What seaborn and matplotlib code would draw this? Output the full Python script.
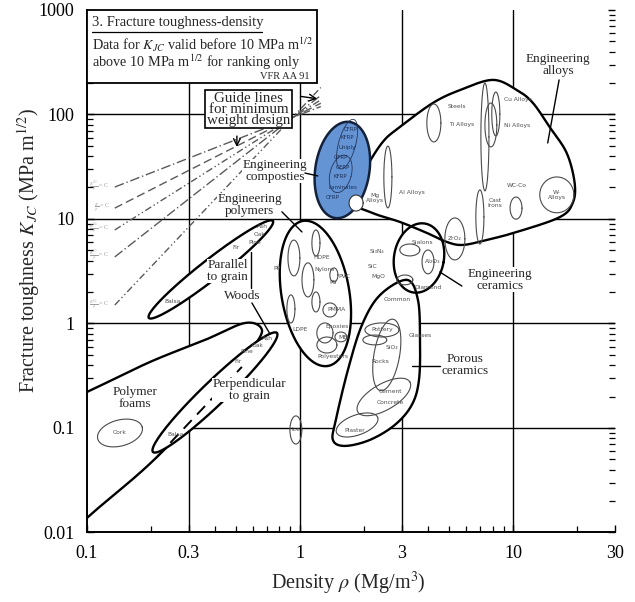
import numpy as np
import matplotlib
matplotlib.use("Agg")
import matplotlib.pyplot as plt
import seaborn as sns
from matplotlib.patches import Rectangle
from matplotlib.ticker import LogLocator, NullFormatter

sns.set_theme(style="white")
plt.rcParams["font.family"] = ["Liberation Serif", "DejaVu Serif"]
plt.rcParams["mathtext.fontset"] = "stix"

# ---------------- axes ----------------
density_ticks = [0.1, 0.3, 1, 3, 10, 30]
density_tick_labels = ["0.1", "0.3", "1", "3", "10", "30"]
toughness_ticks = [0.01, 0.1, 1, 10, 100, 1000]
toughness_tick_labels = ["0.01", "0.1", "1", "10", "100", "1000"]
grid_density = [0.3, 1, 3, 10]
grid_toughness = [0.1, 1, 10, 100]

# ---------------- material envelopes (density Mg/m3, toughness MPa m^1/2) ----------------
foam_rho = [0.0184, 0.0216, 0.0391, 0.1, 0.1975, 0.3575, 0.551, 0.662, 0.594, 0.533, 0.213, 0.1, 0.0436]
foam_K = [0.00546, 0.0396, 0.0916, 0.221, 0.428, 0.695, 1.01, 0.867, 0.557, 0.384, 0.0528, 0.01377, 0.00282]

alloys_rho = [1.71, 2.01, 2.44, 2.94, 4.20, 5.62, 8.02, 10.4, 12.35, 14.8, 17.8, 19.4, 19.0,
              16.5, 10.4, 7.52, 5.80, 4.88, 3.93, 2.94, 2.19]
alloys_K = [15.2, 29.4, 54.5, 75.9, 129, 171, 214, 171, 129, 75.9, 42.8, 22.1, 14.2,
            10.4, 7.51, 6.30, 5.64, 6.02, 7.35, 9.36, 11.4]

porous_rho = [3.17, 3.57, 3.65, 3.61, 3.34, 2.78, 2.12, 1.62, 1.425, 1.47, 1.675, 1.95, 2.37]
porous_K = [2.61, 1.68, 0.695, 0.288, 0.166, 0.1068, 0.0767, 0.0673, 0.0767, 0.119, 0.359, 0.967, 1.87]

# elongated envelopes: two tips plus half-width (decades)
woods_par_rho = [0.195, 0.745]
woods_par_K = [1.13, 9.57]
woods_perp_rho = [0.204, 0.778]
woods_perp_K = [0.0589, 0.811]
polymers_rho = [1.03, 1.35]
polymers_K = [9.57, 0.392]
composites_rho = [1.71, 1.456]
composites_K = [84.7, 10.2]
ceramics_centre = (3.61, 4.23)

# smaller families: centre density, centre toughness, semi-axes (decades), tilt (deg)
sub_rho = [2.58, 4.24, 7.36, 6.97, 7.85, 8.28, 10.3, 16.0,
           0.935, 1.186, 1.088, 1.44, 1.186, 1.38, 1.307, 1.553, 0.905, 1.335,
           3.27, 3.98, 3.10, 5.32,
           2.47, 1.85, 2.42, 2.24, 2.55,
           0.1428, 0.955]
sub_K = [25.2, 82.9, 60.9, 10.45, 79.3, 101, 12.7, 17.0,
         4.23, 5.89, 2.61, 2.91, 1.606, 1.346, 0.811, 0.743, 1.376, 0.622,
         5.05, 3.88, 2.61, 6.44,
         0.198, 0.1068, 0.866, 0.695, 0.50,
         0.0895, 0.0957]
sub_a = [0.019, 0.033, 0.019, 0.019, 0.028, 0.019, 0.028, 0.080,
         0.028, 0.019, 0.028, 0.019, 0.019, 0.033, 0.038, 0.028, 0.019, 0.047,
         0.047, 0.028, 0.0375, 0.047,
         0.141, 0.103, 0.080, 0.056, 0.060,
         0.108, 0.028]
sub_b = [0.145, 0.089, 0.253, 0.127, 0.103, 0.103, 0.052, 0.084,
         0.084, 0.061, 0.080, 0.033, 0.047, 0.033, 0.047, 0.023, 0.066, 0.0375,
         0.028, 0.056, 0.023, 0.0985,
         0.061, 0.047, 0.033, 0.023, 0.170,
         0.061, 0.066]
sub_tilt = [0, 0, 0, 0, 0, 0, 0, 0,
            0, 0, 0, 0, 0, 0, 0, 0, 0, 0,
            0, 0, 0, 0,
            30, 20, 0, 0, -10,
            15, 0]

# Mg alloys sit on the composites envelope
mg_rho, mg_K, mg_a, mg_b = 1.83, 14.2, 0.033, 0.0375

# internal outlines of the composites envelope
comp_in_rho = [1.66, 1.55]
comp_in_K = [52.0, 27.0]
comp_in_a = [0.040, 0.050]
comp_in_b = [0.120, 0.090]

# ---------------- guide lines ----------------
guide_rho = [0.135, 1.25]
guide_K_left = [20.2, 12.7, 7.85, 4.33, 1.50]
guide_K_right = [119, 128, 138, 152, 181]
guide_names = [r"$\frac{K^{4/3}}{\rho}$ = C", r"$\frac{K}{\rho}$ = C", r"$\frac{K^{3/4}}{\rho}$ = C",
               r"$\frac{K^{2/3}}{\rho}$ = C", r"$\frac{K^{1/2}}{\rho}$ = C"]
low_guide_rho = [0.213, 0.533]
low_guide_K = [0.0528, 0.384]

# ---------------- small family names ----------------
tiny_names = ["Balsa", "Ash", "Oak", "Pine", "Fir", "Balsa", "Fir", "Pine", "Oak", "Ash", "Cork", "Ice",
              "HDPE", "Nylons", "PP", "PS", "PVC", "PMMA", "LDPE", "Epoxies", "MEL", "Polyesters",
              "Si₃N₄", "SiC", "MgO", "Sialons", "Al₂O₃", "Diamond", "ZrO₂",
              "Common", "Pottery", "Glasses", "SiO₂", "Rocks", "Cement", "Concrete", "Plaster",
              "Steels", "Ti Alloys", "Cu Alloys", "Ni Alloys", "Al Alloys", "Mg\nAlloys", "WC-Co",
              "Cast\nIrons", "W-\nAlloys"]
tiny_rho = [0.253, 0.662, 0.648, 0.614, 0.50, 0.259, 0.511, 0.563, 0.634, 0.699, 0.1428, 0.955,
            1.265, 1.307, 0.778, 1.425, 1.62, 1.488, 1.0, 1.488, 1.62, 1.425,
            2.29, 2.19, 2.32, 3.73, 4.20, 3.98, 5.32,
            2.84, 2.42, 3.65, 2.69, 2.37, 2.64, 2.64, 1.81,
            5.44, 5.74, 10.5, 10.4, 3.34, 2.24, 10.4, 8.19, 16.0]
tiny_K = [1.606, 8.38, 7.06, 5.89, 5.28, 0.0857, 0.428, 0.534, 0.622, 0.711, 0.0895, 0.0957,
          4.23, 3.25, 3.32, 2.49, 2.79, 1.346, 0.866, 0.926, 0.727, 0.478,
          4.83, 3.47, 2.79, 5.89, 3.88, 2.19, 6.44,
          1.68, 0.866, 0.759, 0.583, 0.428, 0.221, 0.177, 0.0936,
          120, 79.3, 138, 77.6, 18.1, 15.9, 21.1, 14.2, 17.0]

comp_names = ["CFRP", "KFRP", "Uniply", "GFRP", "GFRP", "KFRP", "Laminates", "CFRP"]
comp_rho = [1.73, 1.66, 1.67, 1.55, 1.59, 1.55, 1.59, 1.425]
comp_K = [71.0, 59.6, 47.8, 38.3, 30.8, 25.2, 20.2, 15.9]

# ---------------- figure ----------------
fig = plt.figure(figsize=(6.35, 6.02), dpi=100)
ax = fig.add_axes([0.137, 0.1155, 0.8315, 0.868])
ax.set_xscale("log")
ax.set_yscale("log")
ax.set_xlim(0.1, 30)
ax.set_ylim(0.01, 1000)

p0 = ax.transData.transform((1, 1))
p1 = ax.transData.transform((10, 10))
R = (p1[1] - p0[1]) / (p1[0] - p0[0])   # display height of a toughness decade / width of a density decade


def to_iso(rho, K):
    return np.log10(rho), np.log10(K) * R


def from_iso(X, Y):
    return 10 ** X, 10 ** (Y / R)


def ellipse(rho, K, a, b, ang=0.0, n=160):
    X0, Y0 = to_iso(rho, K)
    t = np.linspace(0, 2 * np.pi, n)
    c, s = np.cos(np.radians(ang)), np.sin(np.radians(ang))
    x, y = a * np.cos(t), b * np.sin(t)
    return from_iso(X0 + c * x - s * y, Y0 + s * x + c * y)


def tip_ellipse(rhos, Ks, hw):
    X, Y = to_iso(np.array(rhos), np.array(Ks))
    a = np.hypot(X[1] - X[0], Y[1] - Y[0]) / 2
    ang = np.degrees(np.arctan2(Y[1] - Y[0], X[1] - X[0]))
    return ellipse(10 ** X.mean(), 10 ** (Y.mean() / R), a, hw, ang)


def smooth_closed(rhos, Ks, n=30):
    X, Y = to_iso(np.array(rhos), np.array(Ks))
    P = np.column_stack([X, Y])
    m = len(P)
    t = np.linspace(0, 1, n, endpoint=False)[:, None]
    segs = []
    for i in range(m):
        q0, q1, q2, q3 = P[i - 1], P[i], P[(i + 1) % m], P[(i + 2) % m]
        segs.append(0.5 * (2 * q1 + (-q0 + q2) * t + (2 * q0 - 5 * q1 + 4 * q2 - q3) * t ** 2
                           + (-q0 + 3 * q1 - 3 * q2 + q3) * t ** 3))
    out = np.vstack(segs + [segs[0][:1]])
    return from_iso(out[:, 0], out[:, 1])


def outline(pts, z, color="black", lw=1.7, **kw):
    sns.lineplot(x=pts[0], y=pts[1], sort=False, estimator=None, ax=ax,
                 color=color, lw=lw, zorder=z, **kw)


def fill(pts, z, color="white"):
    ax.fill(pts[0], pts[1], facecolor=color, edgecolor="none", zorder=z)


# grid
for g in grid_density:
    ax.axvline(g, color="black", lw=1.0, zorder=0.5)
for g in grid_toughness:
    ax.axhline(g, color="black", lw=1.0, zorder=0.5)

# guide lines for minimum weight design
guide_styles = [(0, (7, 2, 1, 2)), (0, (6, 3)), (0, (5, 2, 1, 2, 1, 2)), (0, (7, 2, 1, 2)), (0, (5, 2, 1, 2, 1, 2))]
for kl, kr, st in zip(guide_K_left, guide_K_right, guide_styles):
    sns.lineplot(x=guide_rho, y=[kl, kr], ax=ax, color="#5a5a5a", lw=1.0, linestyle=st, zorder=1)
for kl, name in zip(guide_K_left, guide_names):
    ax.text(0.128, kl, name, fontsize=4.5, color="#a0a0a0", ha="right", va="center", zorder=1)

# polymer foams, then woods across grain over it
foam = smooth_closed(foam_rho, foam_K)
fill(foam, 1.5)
outline(foam, 1.6)
perp = tip_ellipse(woods_perp_rho, woods_perp_K, 0.056)
fill(perp, 1.7)
outline(perp, 1.8)
sns.lineplot(x=low_guide_rho, y=low_guide_K, ax=ax, color="black", lw=1.4,
             linestyle=(0, (6, 4)), zorder=1.85)

par = tip_ellipse(woods_par_rho, woods_par_K, 0.047)
poly = tip_ellipse(polymers_rho, polymers_K, 0.159)
alloys = smooth_closed(alloys_rho, alloys_K)
porous = smooth_closed(porous_rho, porous_K)
ceram = ellipse(ceramics_centre[0], ceramics_centre[1], 0.117, 0.164, -10)
for shape in (par, poly, alloys, porous, ceram):
    fill(shape, 2)
for shape in (par, poly, alloys, porous, ceram):
    outline(shape, 3)

# engineering composites
comp = tip_ellipse(composites_rho, composites_K, 0.127)
fill(comp, 3.5, color="#6494d4")
outline(comp, 3.6, color="#14213a", lw=1.8)
for r_, k_, a_, b_ in zip(comp_in_rho, comp_in_K, comp_in_a, comp_in_b):
    outline(ellipse(r_, k_, a_, b_, -15), 3.65, color="#22375e", lw=0.6)
mg = ellipse(mg_rho, mg_K, mg_a, mg_b)
fill(mg, 3.7)
outline(mg, 3.75, color="#333333", lw=0.8)

# smaller families
for r_, k_, a_, b_, t_ in zip(sub_rho, sub_K, sub_a, sub_b, sub_tilt):
    outline(ellipse(r_, k_, a_, b_, t_), 4, color="#4a4a4a", lw=0.8)

for name, r_, k_ in zip(tiny_names, tiny_rho, tiny_K):
    ax.text(r_, k_, name, fontsize=4.3, color="#4d4d4d", ha="center", va="center",
            family="DejaVu Sans", linespacing=1.0, zorder=5)
for name, r_, k_ in zip(comp_names, comp_rho, comp_K):
    ax.text(r_, k_, name, fontsize=4.0, color="#1c2f55", ha="center", va="center",
            family="DejaVu Sans", zorder=5)

# family names and leaders
labels = [("Engineering\nalloys", 16.2, 298), ("Engineering\ncomposties", 0.762, 28.8),
          ("Engineering\npolymers", 0.581, 13.6), ("Parallel\nto grain", 0.458, 3.18),
          ("Woods", 0.533, 1.83), ("Perpendicular\nto grain", 0.581, 0.231),
          ("Polymer\nfoams", 0.168, 0.1936), ("Porous\nceramics", 5.93, 0.40),
          ("Engineering\nceramics", 8.65, 2.61)]
for txt, r_, k_ in labels:
    ax.text(r_, k_, txt, fontsize=9.5, ha="center", va="center", linespacing=0.95, zorder=6,
            bbox=dict(boxstyle="square,pad=0.05", fc="white", ec="none"))

leaders = [((16.4, 214), (14.5, 53.3)), ((1.053, 27.5), (1.21, 25.8)), ((0.821, 11.7), (1.02, 7.51)),
           ((0.588, 4.83), (0.588, 2.19)), ((0.594, 1.57), (0.722, 0.793)),
           ((3.34, 0.392), (4.52, 0.392)), ((4.52, 3.11), (5.74, 2.28))]
for (r1, k1), (r2, k2) in leaders:
    ax.plot([r1, r2], [k1, k2], color="black", lw=1.0, zorder=6.5)

# guide-line note
ax.text(0.572, 112, "Guide lines\nfor minimum\nweight design", fontsize=10.8, ha="center", va="center",
        linespacing=0.78, zorder=7,
        bbox=dict(boxstyle="square,pad=0.12", fc="white", ec="black", lw=1.2))
ax.annotate("", xy=(1.24, 140), xytext=(0.98, 150),
            arrowprops=dict(arrowstyle="->", color="black", lw=1.0), zorder=7)
ax.annotate("", xy=(0.505, 46), xytext=(0.505, 66),
            arrowprops=dict(arrowstyle="->", color="black", lw=1.0), zorder=7)

# chart title box
ax.add_patch(Rectangle((0, 0.860), 0.4356, 0.14, transform=ax.transAxes, fc="white",
                       ec="black", lw=1.3, zorder=8, clip_on=False))
ax.text(0.0095, 0.975, "3. Fracture toughness-density", transform=ax.transAxes, fontsize=10.5,
        ha="left", va="center", zorder=9)
ax.plot([0.0095, 0.331], [0.9585, 0.9585], transform=ax.transAxes, color="black", lw=0.9, zorder=9)
ax.text(0.0095, 0.933, r"Data for $K_{JC}$ valid before 10 MPa m$^{1/2}$", transform=ax.transAxes,
        fontsize=10.3, ha="left", va="center", zorder=9)
ax.text(0.0095, 0.9005, r"above 10 MPa m$^{1/2}$ for ranking only", transform=ax.transAxes,
        fontsize=10.3, ha="left", va="center", zorder=9)
ax.text(0.4223, 0.872, "VFR AA 91", transform=ax.transAxes, fontsize=7.5, ha="right",
        va="center", zorder=9)

# axes styling
ax.set_xticks(density_ticks)
ax.set_xticklabels(density_tick_labels)
ax.set_yticks(toughness_ticks)
ax.set_yticklabels(toughness_tick_labels)
ax.xaxis.set_minor_locator(LogLocator(base=10, subs=np.arange(2, 10)))
ax.yaxis.set_minor_locator(LogLocator(base=10, subs=np.arange(2, 10)))
ax.xaxis.set_minor_formatter(NullFormatter())
ax.yaxis.set_minor_formatter(NullFormatter())
ax.tick_params(axis="both", which="both", direction="in", top=False, right=True,
               left=True, bottom=True, colors="black")
ax.tick_params(which="major", length=5, width=1.0, labelsize=13, pad=9)
ax.tick_params(which="minor", length=4, width=0.9)
for side in ("top", "right"):
    ax.spines[side].set_visible(False)
for side in ("left", "bottom"):
    ax.spines[side].set_color("black")
    ax.spines[side].set_linewidth(1.4)
ax.grid(False)

ax.set_xlabel(r"Density $\rho$ (Mg/m$^3$)", fontsize=14.5)
ax.set_ylabel(r"Fracture toughness $K_{JC}$ (MPa m$^{1/2}$)", fontsize=14.5)
ax.xaxis.set_label_coords(0.495, -0.072)
ax.yaxis.set_label_coords(-0.085, 0.54)

fig.savefig("out.png", dpi=100)
